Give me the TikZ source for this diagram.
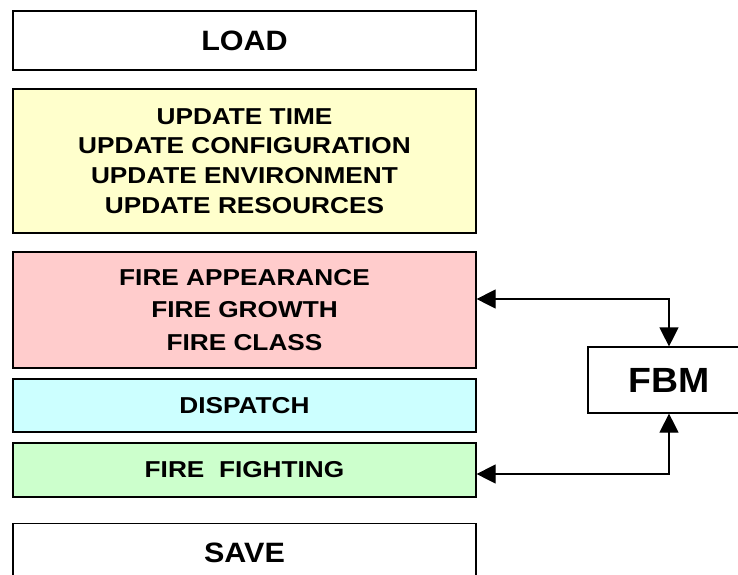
\documentclass[tikz,border=0pt]{standalone}
\usepackage{fontspec}
\setmainfont{Liberation Sans}
\newfontfamily\fsmall[FakeStretch=1.14]{Liberation Sans}
\newfontfamily\fbig[FakeStretch=1.09]{Liberation Sans}
\newfontfamily\ffbm[FakeStretch=1.07]{Liberation Sans}
\usetikzlibrary{arrows.meta}
\definecolor{cyellow}{HTML}{FFFFCC}
\definecolor{cpink}{HTML}{FFCCCC}
\definecolor{ccyan}{HTML}{CCFFFF}
\definecolor{cgreen}{HTML}{CCFFCC}
\tikzset{
  box/.style={draw=black, line width=1.2pt, rectangle, inner sep=0pt, align=center,
    minimum width=463pt, font=\fsmall\bfseries\fontsize{23}{32.3}\selectfont},
  bigtext/.style={font=\fbig\bfseries\fontsize{28}{32}\selectfont},
  arr/.style={line width=1.2pt, {Triangle[length=19pt,width=19pt]}-{Triangle[length=19pt,width=19pt]}}
}
\begin{document}
\begin{tikzpicture}[x=1pt,y=-1pt]
\useasboundingbox (0,0) rectangle (738,574);
\clip (0,0) rectangle (738,574);
\node[box, bigtext, fill=white, minimum height=59pt] (load) at (244.5,40.5) {LOAD};
\node[box, font=\fsmall\bfseries\fontsize{23}{29.8}\selectfont, fill=cyellow, minimum height=144pt] (upd) at (244.5,161) {UPDATE TIME\\UPDATE CONFIGURATION\\UPDATE ENVIRONMENT\\UPDATE RESOURCES};
\node[box, fill=cpink, minimum height=116pt] (fire) at (244.5,310) {FIRE APPEARANCE\\FIRE GROWTH\\FIRE CLASS};
\node[box, fill=ccyan, minimum height=53pt] (disp) at (244.5,405.5) {DISPATCH};
\node[box, fill=cgreen, minimum height=54pt] (fight) at (244.5,470) {FIRE\ \ FIGHTING};
\node[box, fill=white, minimum height=59pt, anchor=north] (save) at (244.5,523) {};
\node[bigtext] (savetxt) at (save.center) {SAVE};
\node[box, font=\ffbm\bfseries\fontsize{35}{40}\selectfont, fill=white, minimum width=162pt, minimum height=66pt] (fbm) at (669,380) {FBM};
\coordinate (c1) at (669,299);
\coordinate (c2) at (669,474);
\draw[arr] (fire.east |- c1) -- (c1) -- (c1 |- fbm.north);
\draw[arr] (fight.east |- c2) -- (c2) -- (c2 |- fbm.south);
\end{tikzpicture}
\end{document}
